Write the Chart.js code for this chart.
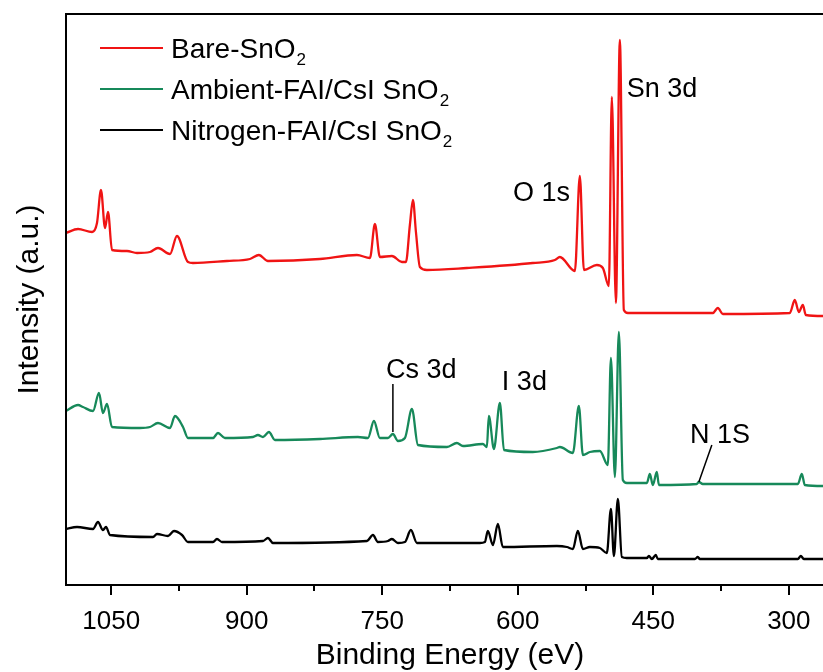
<!DOCTYPE html>
<html>
<head>
<meta charset="utf-8">
<title>XPS survey</title>
<script src="https://cdn.jsdelivr.net/npm/chart.js@4.4.1/dist/chart.umd.min.js"></script>
<style>
  html, body { margin: 0; padding: 0; overflow: hidden; background: #fff; }
  canvas { display: block; }
</style>
</head>
<body>
<canvas id="xps" width="860" height="672"></canvas>
<script>
// survey spectra, binding energy (eV) vs intensity (a.u., offset stacked)
const bareEnergy = [1100, 1086.7, 1071.2, 1065.7, 1061.3, 1056.8, 1053.5, 1049.1, 1032.5, 1021.4, 1007.1, 998.2, 984.9, 977.2, 965, 959.5, 921.9, 896.4, 886.5, 876.5, 819, 778, 763.6, 758.1, 752.6, 739.3, 728.2, 723.8, 719.4, 716, 712.7, 708.3, 700.6, 656.3, 583.3, 558.9, 553.4, 536.8, 531.3, 526.8, 512.5, 505.8, 499.2, 495.9, 491.4, 487, 482.6, 478.1, 384.1, 378.6, 373, 298.9, 293.4, 288.9, 284.5, 281.2, 262.4, 250];
const bareCounts = [352, 356, 353, 362, 395, 357, 373, 335, 334, 332, 333, 337, 331, 349, 323, 322, 324, 326, 330, 324, 326, 330, 327, 361, 328, 329, 323, 323, 360, 385, 353, 318, 315, 317, 322, 325, 328, 314, 409, 315, 320, 317, 299, 488, 282, 545, 275, 272, 272, 277, 271, 272, 285, 273, 280, 270, 269, 269];

const ambientEnergy = [1100, 1086.7, 1081.2, 1070.1, 1063.5, 1059.1, 1054.6, 1049.1, 1018.1, 1007.1, 998.2, 984.9, 979.4, 970.5, 965, 937.3, 931.8, 924.1, 893.1, 887.6, 882, 875.4, 868.7, 818.9, 776.9, 765.8, 759.2, 752.6, 743.7, 738.2, 732.6, 724.9, 717.1, 710.5, 678.4, 667.4, 660.7, 638.6, 634.2, 632, 626.4, 619.8, 615.3, 583.3, 556.7, 553.4, 539, 532.4, 527.9, 520.2, 509.1, 500.3, 496.9, 492.5, 488.1, 483.7, 479.3, 457.1, 453.8, 450.5, 446.1, 443.8, 402, 399.6, 395.2, 290, 285.6, 282.3, 262.4, 250];
const ambientCounts = [174, 180, 178, 174, 192, 172, 181, 158, 157, 158, 162, 157, 169, 158, 147, 147, 152, 147, 148, 150, 148, 153, 145, 146, 148, 147, 164, 147, 147, 151, 144, 147, 176, 140, 138, 142, 139, 141, 138, 169, 136, 182, 135, 133, 137, 138, 132, 179, 130, 133, 134, 120, 227, 108, 253, 105, 102, 102, 111, 100, 113, 100, 101, 103, 101, 101, 111, 100, 99, 99];

const nitrogenEnergy = [1100, 1087.8, 1070.1, 1064.6, 1059.1, 1055.7, 1051.3, 1003.7, 999.3, 987.1, 980.5, 971.6, 965, 937.3, 932.9, 927.4, 882, 876.5, 870.9, 766.9, 760.3, 754.8, 743.7, 739.3, 732.6, 724.9, 718.3, 711.6, 667.4, 641.9, 636.4, 633.1, 627.5, 622, 616.5, 556.7, 545.6, 539, 533.5, 527.9, 520.2, 509.1, 501.4, 496.9, 493.6, 489.2, 484.8, 479.3, 457.1, 454.9, 451.6, 447.2, 445, 404, 400.7, 398.5, 290, 286.7, 283.4, 262.4, 250];
const nitrogenCounts = [56, 58, 56, 63, 55, 58, 50, 48, 51, 49, 54, 50, 43, 43, 46, 43, 44, 47, 42, 44, 50, 43, 44, 46, 42, 43, 55, 42, 42, 42, 43, 54, 40, 61, 38, 39, 38, 36, 54, 36, 38, 37, 32, 76, 29, 86, 28, 27, 27, 29, 26, 30, 26, 26, 28, 26, 26, 29, 26, 26, 26];

const seriesNames = [['Bare-SnO', '2'], ['Ambient-FAI/CsI SnO', '2'], ['Nitrogen-FAI/CsI SnO', '2']];
const seriesColors = ['#f01414', '#17895a', '#000000'];

const majorTicks = [1050, 900, 750, 600, 450, 300];
const minorTicks = [975, 825, 675, 525, 375];

// peak assignments: text, anchor energy, anchor intensity, alignment
const peakLabels = [
  { text: 'Sn 3d', x: 479.3, y: 488, align: 'left' },
  { text: 'O 1s', x: 542.3, y: 384, align: 'right' },
  { text: 'Cs 3d', x: 745.9, y: 207, align: 'left' },
  { text: 'I 3d', x: 617.6, y: 195, align: 'left' },
  { text: 'N 1S', x: 409.5, y: 142, align: 'left' }
];
// leader lines [x1, y1, x2, y2] in data units
const leaders = [
  [738.2, 201, 738.2, 153],
  [385.2, 140, 399.6, 103]
];

const FONT = '"Liberation Sans", Arial, sans-serif';

function toPoints(xs, ys) {
  return xs.map((x, i) => ({ x: x, y: ys[i] }));
}

function drawSub(ctx, parts, x, y, size) {
  ctx.font = size + 'px ' + FONT;
  ctx.fillText(parts[0], x, y);
  const w = ctx.measureText(parts[0]).width;
  ctx.font = Math.round(size * 0.62) + 'px ' + FONT;
  ctx.fillText(parts[1], x + w + 1, y + 7);
}

const decorPlugin = {
  id: 'decor',
  afterDraw(chart) {
    const { ctx, chartArea: a, scales: { x, y } } = chart;
    ctx.save();
    ctx.strokeStyle = '#000';
    ctx.lineWidth = 2;
    ctx.strokeRect(a.left, a.top, a.right - a.left, a.bottom - a.top);

    // outward tick marks on the energy axis
    ctx.beginPath();
    majorTicks.forEach(v => {
      const px = Math.round(x.getPixelForValue(v));
      ctx.moveTo(px, a.bottom);
      ctx.lineTo(px, a.bottom + 10);
    });
    minorTicks.forEach(v => {
      const px = Math.round(x.getPixelForValue(v));
      ctx.moveTo(px, a.bottom);
      ctx.lineTo(px, a.bottom + 6);
    });
    ctx.stroke();

    // peak labels and leader lines
    ctx.fillStyle = '#000';
    ctx.font = '27px ' + FONT;
    ctx.textBaseline = 'alphabetic';
    peakLabels.forEach(p => {
      ctx.textAlign = p.align;
      ctx.fillText(p.text, x.getPixelForValue(p.x), y.getPixelForValue(p.y));
    });
    ctx.lineWidth = 1.5;
    ctx.beginPath();
    leaders.forEach(l => {
      ctx.moveTo(x.getPixelForValue(l[0]), y.getPixelForValue(l[1]));
      ctx.lineTo(x.getPixelForValue(l[2]), y.getPixelForValue(l[3]));
    });
    ctx.stroke();

    // legend
    ctx.textAlign = 'left';
    chart.data.datasets.forEach((ds, i) => {
      const ly = a.top + 34 + i * 41;
      ctx.strokeStyle = ds.borderColor;
      ctx.lineWidth = 2;
      ctx.beginPath();
      ctx.moveTo(a.left + 34, ly);
      ctx.lineTo(a.left + 97, ly);
      ctx.stroke();
      ctx.fillStyle = '#000';
      drawSub(ctx, seriesNames[i], a.left + 105, ly + 10, 28);
    });
    ctx.restore();
  }
};

new Chart(document.getElementById('xps'), {
  type: 'line',
  data: {
    datasets: [
      { label: 'Bare-SnO2', data: toPoints(bareEnergy, bareCounts) },
      { label: 'Ambient-FAI/CsI SnO2', data: toPoints(ambientEnergy, ambientCounts) },
      { label: 'Nitrogen-FAI/CsI SnO2', data: toPoints(nitrogenEnergy, nitrogenCounts) }
    ].map((d, i) => Object.assign(d, {
      borderColor: seriesColors[i],
      borderWidth: 2.3,
      borderJoinStyle: 'round',
      pointRadius: 0,
      cubicInterpolationMode: 'monotone',
      fill: false
    }))
  },
  options: {
    responsive: false,
    animation: false,
    events: [],
    layout: { padding: { top: 14, right: 26, left: 0, bottom: 0 } },
    plugins: { legend: { display: false }, tooltip: { enabled: false } },
    scales: {
      x: {
        type: 'linear',
        reverse: true,
        min: 250,
        max: 1100,
        grid: { display: false, drawTicks: false },
        border: { display: false },
        afterBuildTicks: scale => { scale.ticks = majorTicks.map(v => ({ value: v })); },
        afterFit: scale => { scale.height = 87; },
        ticks: {
          padding: 21,
          color: '#000',
          font: { family: FONT, size: 26 },
          maxRotation: 0,
          callback: v => String(v)
        },
        title: {
          display: true,
          text: 'Binding Energy (eV)',
          color: '#000',
          font: { family: FONT, size: 30, lineHeight: 1 },
          padding: { top: 0, bottom: 1 }
        }
      },
      y: {
        min: 0,
        max: 571,
        grid: { display: false, drawTicks: false },
        border: { display: false },
        ticks: { display: false },
        afterFit: scale => { scale.width = 66; },
        title: {
          display: true,
          text: 'Intensity (a.u.)',
          color: '#000',
          font: { family: FONT, size: 30 },
          padding: { top: 12, bottom: 0 }
        }
      }
    }
  },
  plugins: [decorPlugin]
});
</script>
</body>
</html>
